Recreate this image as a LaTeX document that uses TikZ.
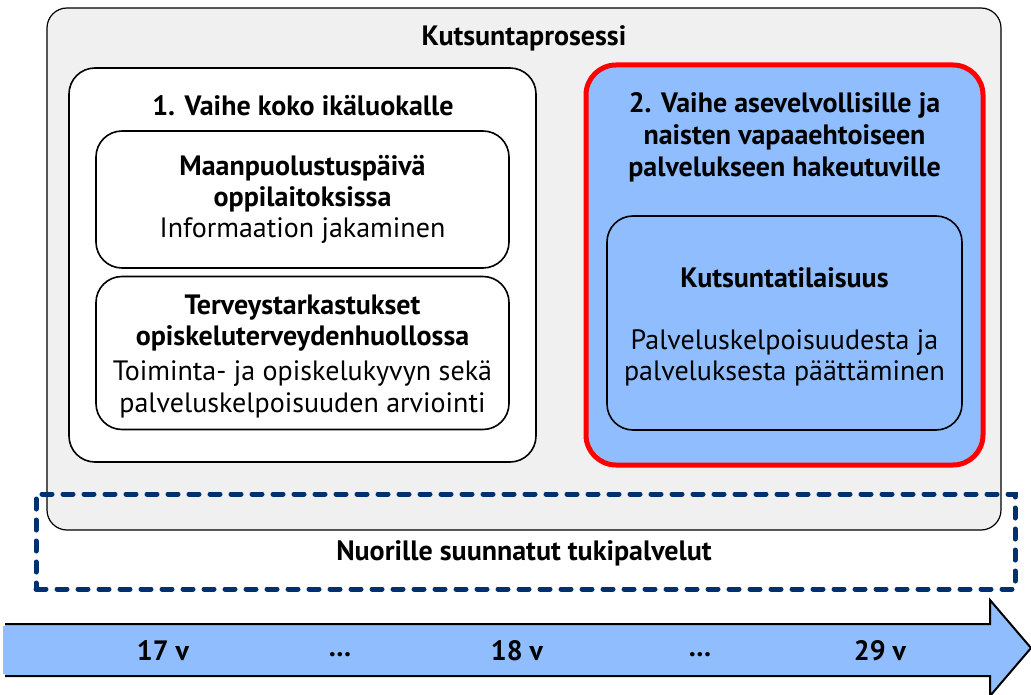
\documentclass[tikz,border=0pt]{standalone}
\usepackage{fontspec}
\setmainfont{PT Sans}
\usetikzlibrary{positioning}
\definecolor{bggray}{RGB}{240,240,240}
\definecolor{skyblue}{RGB}{143,189,253}
\definecolor{navy}{RGB}{0,48,110}
\begin{document}
\begin{tikzpicture}[x=1pt,y=-1pt]
\tikzstyle{txt}=[font=\fontsize{28}{31}\selectfont, align=center, inner sep=0pt]
\tikzstyle{bold}=[txt, font=\fontsize{28}{31}\selectfont\bfseries]
\tikzstyle{panel}=[rectangle, rounded corners=26pt, draw=black, line width=1.6pt, inner sep=0pt]
\tikzstyle{outer}=[rectangle, rounded corners=20pt, draw=black, line width=1.2pt, fill=bggray, inner sep=0pt]
\tikzstyle{stage}=[rectangle, rounded corners=30pt, draw=red, line width=5pt, fill=skyblue, inner sep=0pt]
\tikzstyle{support}=[rectangle, draw=navy, line width=5pt, dash pattern=on 10pt off 11pt, line cap=round, inner sep=0pt]
\tikzstyle{timeline}=[fill=skyblue, draw=black, line width=2pt, line join=miter]
\useasboundingbox (0,0) rectangle (1031,695);
	% kehys
	\node[outer, minimum width=954pt, minimum height=522pt] (process) at (524,269) { };
	\node[bold] (processT) at (524,38) {Kutsuntaprosessi};
	% vaihe 1
	\node[panel, fill=white, minimum width=467pt, minimum height=394pt] (phase1) at (302.5,265) { };
	\node[bold] (phase1T) at (303,106) {1. Vaihe koko ikäluokalle};
	\node[panel, fill=white, minimum width=413pt, minimum height=137pt] (mpd) at (302.5,199.5) {};
	\node[txt] (mpdT) at (mpd) {\textbf{Maanpuolustuspäivä}\\ \textbf{oppilaitoksissa}\\ Informaation jakaminen};
	\node[panel, fill=white, minimum width=413pt, minimum height=153pt] (health) at (302.5,353) {};
	\node[txt] (healthT) at ([yshift=-3pt]health.center) {\textbf{Terveystarkastukset}\\ \textbf{opiskeluterveydenhuollossa}\\[4pt] Toiminta- ja opiskelukyvyn sekä\\[1pt] palveluskelpoisuuden arviointi};
	% vaihe 2
	\node[stage, minimum width=397pt, minimum height=400pt] (phase2) at (784.5,265) { };
	\node[bold, below=30pt of phase2.north] (phase2T) {2. Vaihe asevelvollisille ja\\[1pt] naisten vapaaehtoiseen\\[1pt] palvelukseen hakeutuville};
	\node[panel, fill=skyblue, minimum width=355pt, minimum height=214pt] (call) at (784.5,323) {};
	\node[txt] (callT) at ([yshift=-4pt]call.center) {\textbf{Kutsuntatilaisuus}\\[31pt] Palveluskelpoisuudesta ja\\ palveluksesta päättäminen};
	% tukipalvelut
	\node[support, minimum width=979pt, minimum height=95pt] (youth) at (525.5,541.5) { };
	\node[bold] (youthT) at (524,553) {Nuorille suunnatut tukipalvelut};
	% aikajana
	\draw[timeline] (5,624) -- (990,624) -- (990,600) -- (1031,648) -- (990,696) -- (990,676) -- (5,676);
	\fill[skyblue] (3,626) rectangle (8,674);
	\node[bold] (age17) at (163,651) {17 v};
	\node[bold] (dots1) at (340,655) {\ldots};
	\node[bold] (age18) at (517,651) {18 v};
	\node[bold] (dots2) at (700,655) {\ldots};
	\node[bold] (age29) at (880,651) {29 v};
\end{tikzpicture}
\end{document}
